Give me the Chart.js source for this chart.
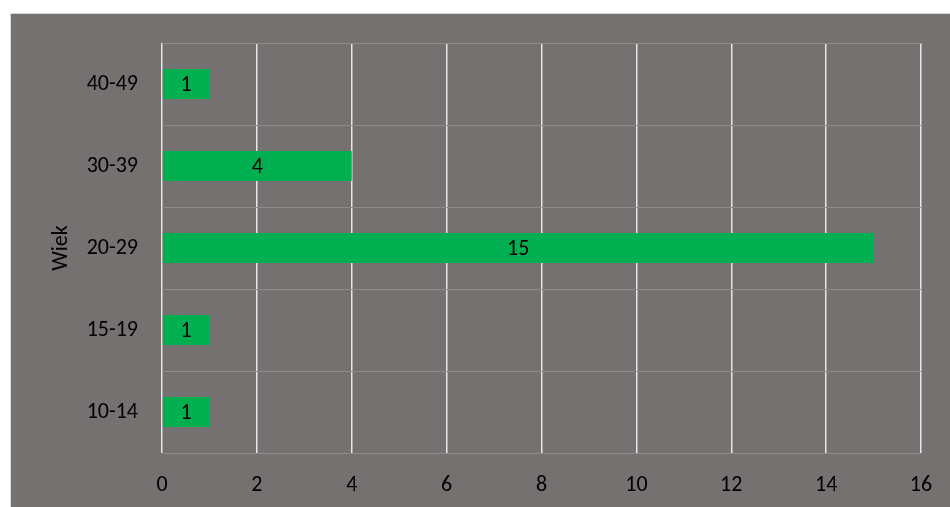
<!DOCTYPE html>
<html>
<head>
<meta charset="utf-8">
<script src="https://cdn.jsdelivr.net/npm/chart.js@4"></script>
<style>
    html, body { margin: 0; padding: 0; background: #fff; overflow: hidden; }
    .chart-box {
        position: absolute;
        left: 10px; top: 13px;
        width: 940px; height: 494px;
        background: #767171;
        border-top: 1px solid #d9d9d9;
        border-left: 1px solid #d9d9d9;
        box-sizing: border-box;
    }
    .chart-box canvas { display: block; }
</style>
</head>
<body>
<div class="chart-box">
    <canvas id="ageChart" width="939" height="493"></canvas>
</div>
<script>
const ageGroups = ['10-14', '15-19', '20-29', '30-39', '40-49'];
const counts = [1, 1, 15, 4, 1];
const xTicks = [0, 2, 4, 6, 8, 10, 12, 14, 16];
const axisTitle = 'Wiek';

const FONT = '"Carlito", "Lato", "Open Sans", sans-serif';
const FONT_SIZE = 22;

// etykiety wartości w środku słupków
const barLabels = {
    id: 'barLabels',
    afterDatasetsDraw(chart) {
        const ctx = chart.ctx;
        const meta = chart.getDatasetMeta(0);
        ctx.save();
        ctx.fillStyle = '#000';
        ctx.font = FONT_SIZE + 'px ' + FONT;
        ctx.textAlign = 'center';
        ctx.textBaseline = 'middle';
        meta.data.forEach((bar, i) => {
            const cx = (bar.x + bar.base) / 2;
            ctx.fillText(String(counts[i]), cx, bar.y + 1);
        });
        ctx.restore();
    }
};

const chart = new Chart(document.getElementById('ageChart').getContext('2d'), {
    type: 'bar',
    data: {
        labels: ageGroups,
        datasets: [{
            data: counts,
            backgroundColor: '#00B050',
            borderWidth: 0,
            categoryPercentage: 1,
            barPercentage: 0.366
        }]
    },
    options: {
        indexAxis: 'y',
        responsive: false,
        animation: false,
        layout: { padding: { top: 29, right: 29, bottom: 0, left: 0 } },
        plugins: {
            legend: { display: false },
            tooltip: { enabled: false }
        },
        scales: {
            x: {
                min: 0,
                max: 16,
                afterBuildTicks: scale => { scale.ticks = xTicks.map(v => ({ value: v })); },
                afterFit: scale => {
                    scale.height = 54;
                    scale.paddingLeft = 0;
                    scale.paddingRight = 0;
                },
                ticks: {
                    color: '#000',
                    font: { family: FONT, size: FONT_SIZE },
                    padding: 19
                },
                grid: { color: '#e6e6e6', lineWidth: 1.5, drawTicks: false },
                border: { display: false }
            },
            y: {
                reverse: true,
                afterFit: scale => {
                    scale.width = 151;
                    scale.paddingTop = 0;
                    scale.paddingBottom = 0;
                },
                ticks: {
                    color: '#000',
                    font: { family: FONT, size: FONT_SIZE },
                    padding: 24
                },
                title: {
                    display: true,
                    text: axisTitle,
                    color: '#000',
                    font: { family: FONT, size: FONT_SIZE },
                    padding: { top: 37, bottom: 0 }
                },
                grid: { color: '#8f8b8b', lineWidth: 1, drawTicks: false, offset: true },
                border: { display: false }
            }
        }
    },
    plugins: [barLabels]
});
</script>
</body>
</html>
